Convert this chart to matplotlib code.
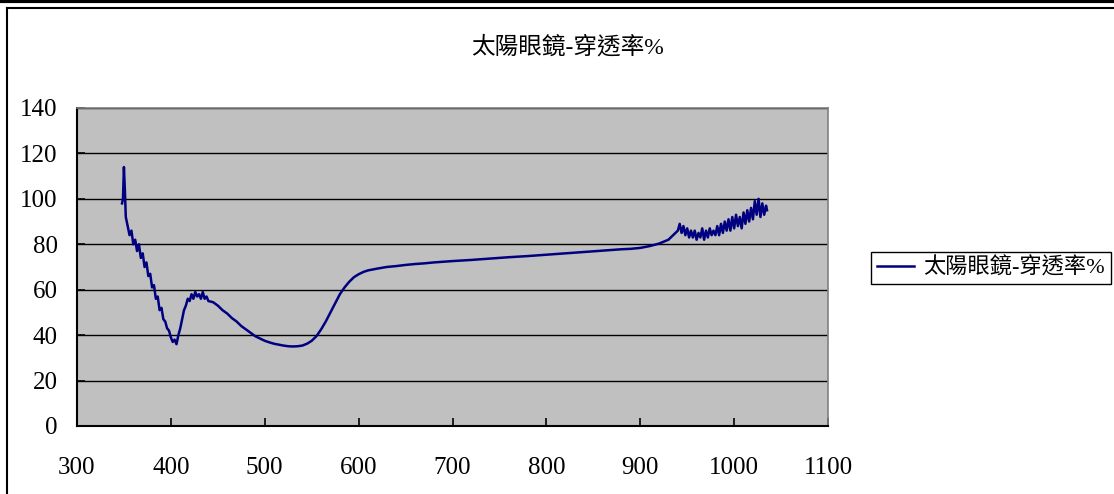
import matplotlib
matplotlib.use("Agg")
import matplotlib.pyplot as plt
from matplotlib.lines import Line2D

plt.rcParams['font.family'] = ['Liberation Serif', 'Noto Sans CJK TC']

title = '太陽眼鏡-穿透率%'

# wavelength (nm) and transmittance (%)
wl = [348, 349, 350, 351, 352, 354, 356, 358, 360, 362, 364, 366, 368, 370,
      372, 374, 376, 378, 380, 382, 384, 386, 388, 390, 392, 394, 396, 398,
      400, 402, 404, 406, 408, 410, 412, 414, 416, 418, 420, 422, 424, 426,
      428, 430, 432, 434, 436, 438, 440, 445, 450, 455, 460, 465, 470, 475,
      480, 485, 490, 495, 500, 505, 510, 515, 520, 525, 530, 535, 540, 545,
      550, 555, 560, 565, 570, 575, 580, 585, 590, 595, 600, 605, 610, 620,
      630, 640, 650, 660, 670, 680, 690, 700, 720, 740, 760, 780, 800, 820,
      840, 860, 880, 890, 900, 910, 920, 930, 935, 940, 942, 944, 946, 948,
      950, 952, 954, 956, 958, 960, 962, 964, 966, 968, 970, 972, 974, 976,
      978, 980, 982, 984, 986, 988, 990, 992, 994, 996, 998, 1000, 1002, 1004,
      1006, 1008, 1010, 1012, 1014, 1016, 1018, 1020, 1022, 1024, 1026, 1028,
      1030, 1032, 1034, 1035]
trans = [98, 100, 114, 104, 92, 88, 84, 86, 80, 82, 77, 80, 74, 76,
         70, 72, 66, 67, 61, 62, 56, 57, 51, 52, 47, 46, 43, 42,
         39, 37, 38, 36, 40, 43, 47, 51, 53, 56, 55, 58, 56, 59,
         57, 58, 56, 59, 56, 57, 55, 54.5, 53, 51, 49.5, 47.5, 46, 44,
         42.5, 41, 39.5, 38.5, 37.5, 36.8, 36.2, 35.8, 35.4, 35.1, 35, 35.1, 35.4, 36.2,
         37.5, 39.5, 42.5, 46, 50, 54, 58, 61, 63.5, 65.5, 66.8, 67.8, 68.5, 69.3,
         70, 70.4, 70.9, 71.3, 71.6, 72, 72.3, 72.6, 73.1, 73.7, 74.3, 74.8, 75.4, 76,
         76.6, 77.2, 77.8, 78, 78.4, 79.2, 80.3, 82, 84, 86, 89, 85, 88, 84,
         87, 83, 86, 83, 86, 82, 85, 83, 87, 82, 86, 83, 87, 84,
         86, 84, 88, 84, 89, 85, 90, 86, 91, 86, 92, 87, 93, 88,
         92, 87, 94, 89, 95, 90, 96, 91, 99, 93, 100, 92,
         98, 93, 97, 95]

fig = plt.figure(figsize=(11.14, 4.94), dpi=100)
ax = fig.add_axes([0.0691, 0.1377, 0.6742, 0.6437])
ax.set_facecolor('#c0c0c0')

line, = ax.plot(wl, trans, color='#000080', lw=1.8)

ax.set_xlim(300, 1100)
ax.set_ylim(0, 140)
ax.set_xticks(range(300, 1101, 100))
ax.set_yticks(range(0, 141, 20))
ax.yaxis.grid(True, color='black', lw=1)
ax.set_axisbelow(True)
ax.tick_params(direction='in', length=6, width=1.2, labelsize=18, colors='black')
ax.tick_params(axis='x', pad=22)
ax.tick_params(axis='y', pad=14)
for s in ['left', 'bottom']:
    ax.spines[s].set_color('black')
    ax.spines[s].set_linewidth(1.5)
for s in ['top', 'right']:
    ax.spines[s].set_color('#808080')
    ax.spines[s].set_linewidth(1.2)

fig.text(0.509, 0.905, title, ha='center', va='center', fontsize=17,
         family=['Liberation Serif', 'Noto Sans CJK TC'])

leg = fig.legend([line], [title], loc='center left',
                 bbox_to_anchor=(0.782, 0.4575), fontsize=16,
                 fancybox=False, framealpha=1, edgecolor='black',
                 handlelength=1.7, borderpad=0.25, handletextpad=0.4,
                 borderaxespad=0)
leg.get_frame().set_linewidth(1)

# outer chart frame
fig.add_artist(Line2D([0, 1], [0.997, 0.997], transform=fig.transFigure, color='black', lw=3))
fig.add_artist(Line2D([0.0063, 1], [0.9835, 0.9835], transform=fig.transFigure, color='black', lw=1.5))
fig.add_artist(Line2D([0.0063, 0.0063], [0, 0.9835], transform=fig.transFigure, color='black', lw=1.5))

fig.savefig('out.png', dpi=100)
